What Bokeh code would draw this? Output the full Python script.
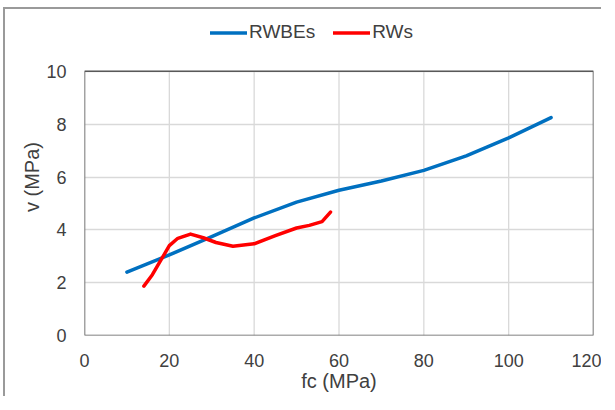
from bokeh.plotting import figure
from bokeh.models import Legend, LegendItem, FixedTicker, Range1d
from bokeh.embed import file_html
from bokeh.resources import INLINE

# RWBEs series
rwbes_fc = [10, 20, 30, 40, 50, 60, 70, 80, 90, 100, 110]
rwbes_v = [2.40, 3.05, 3.74, 4.45, 5.05, 5.50, 5.85, 6.25, 6.80, 7.48, 8.25]

# RWs series
rws_fc = [14, 16, 18, 20, 22, 25, 28, 31, 35, 40, 45, 50, 53, 56, 58]
rws_v = [1.87, 2.30, 2.85, 3.40, 3.68, 3.84, 3.70, 3.52, 3.38, 3.47, 3.78, 4.07, 4.17, 4.31, 4.67]

x_ticks = [0, 20, 40, 60, 80, 100, 120]
y_ticks = [0, 2, 4, 6, 8, 10]

FONT = "Liberation Sans"
TXT = "#404040"
X0, X1 = x_ticks[0], x_ticks[-1]
Y0, Y1 = y_ticks[0], y_ticks[-1]

# frame extends above the plot area (room for the legend)
p = figure(width=598, height=389, output_backend="svg", toolbar_location=None,
           x_range=Range1d(X0, X1), y_range=Range1d(Y0, 12.0),
           min_border_left=79, min_border_right=10, min_border_top=9, min_border_bottom=63)
p.styles = {"border-left": "2px solid #9a9a9a", "border-top": "2px solid #9a9a9a",
            "position": "relative", "left": "3px", "top": "7px"}

p.outline_line_color = None
p.background_fill_color = "white"
p.border_fill_color = "white"

for ax in (p.xaxis[0], p.yaxis[0]):
    ax.axis_line_color = None
    ax.major_tick_line_color = None
    ax.minor_tick_line_color = None
    ax.major_label_text_font = FONT
    ax.major_label_text_font_size = "18px"
    ax.major_label_text_color = TXT
    ax.axis_label_text_font = FONT
    ax.axis_label_text_font_size = "20px"
    ax.axis_label_text_font_style = "normal"
    ax.axis_label_text_color = TXT

p.xaxis.ticker = FixedTicker(ticks=x_ticks)
p.yaxis.ticker = FixedTicker(ticks=y_ticks)
p.xaxis.major_label_standoff = 12
p.yaxis.major_label_standoff = 12
p.xaxis.axis_label = "fc (MPa)"
p.yaxis.axis_label = "v (MPa)"
p.xaxis.axis_label_standoff = 0
p.yaxis.axis_label_standoff = 0

p.xgrid.visible = False
p.ygrid.ticker = FixedTicker(ticks=y_ticks)
p.ygrid.grid_line_color = "#d9d9d9"
p.ygrid.grid_line_width = 1.3

# vertical grid lines limited to the plot area
p.segment(x0=x_ticks, y0=[Y0] * len(x_ticks), x1=x_ticks, y1=[Y1] * len(x_ticks),
          line_color="#d9d9d9", line_width=1.3)

r1 = p.line(rwbes_fc, rwbes_v, line_color="#0070C0", line_width=3.5, line_cap="round", line_join="round")
r2 = p.line(rws_fc, rws_v, line_color="#FF0000", line_width=3.5, line_cap="round", line_join="round")

# plot-area border
p.quad(left=[X0], right=[X1], bottom=[Y0], top=[Y1], fill_color=None,
       line_color="#595959", line_width=1.5)

legend = Legend(items=[LegendItem(label="RWBEs", renderers=[r1]), LegendItem(label="RWs", renderers=[r2])],
                orientation="horizontal", location=(126, 292),
                glyph_width=37, glyph_height=19, label_standoff=2, spacing=18,
                padding=0, margin=0, border_line_color=None, background_fill_alpha=0,
                label_text_font=FONT, label_text_font_size="19px", label_text_color=TXT)
p.add_layout(legend, "center")

open("out.html", "w").write(file_html(p, INLINE))
